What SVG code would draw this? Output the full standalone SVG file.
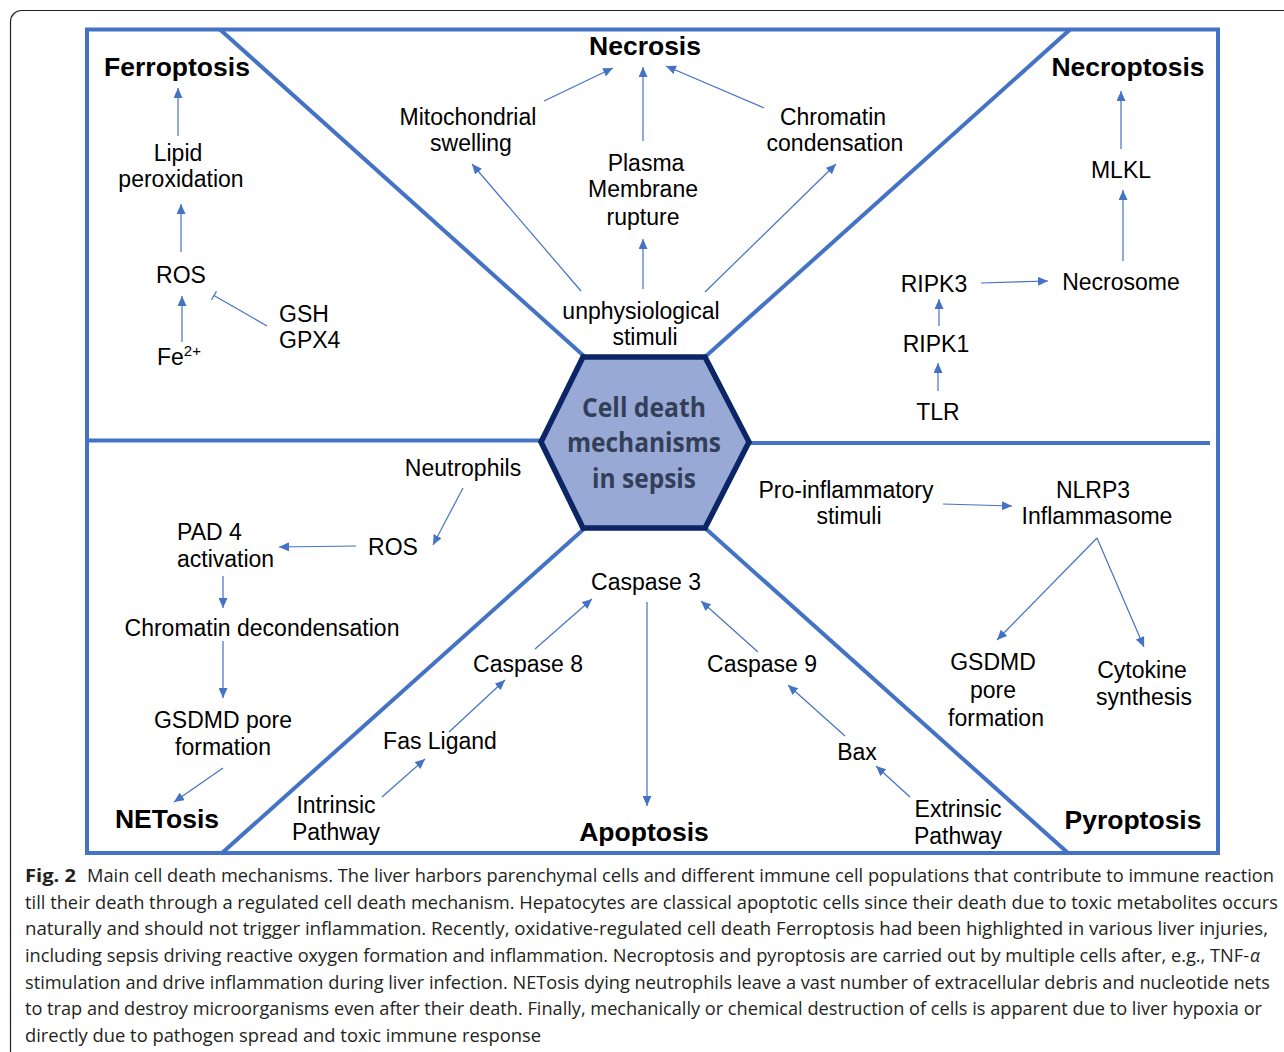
<svg xmlns="http://www.w3.org/2000/svg" width="1284" height="1052" viewBox="0 0 1284 1052">
<defs>
<marker id="ah" viewBox="0 0 10 9" refX="10" refY="4.5" markerWidth="10" markerHeight="9" markerUnits="userSpaceOnUse" orient="auto">
<path d="M0,0 L10,4.5 L0,9 z" fill="#4472C4"/>
</marker>
<marker id="bar" viewBox="0 0 2 10" refX="1" refY="5" markerWidth="2" markerHeight="10" markerUnits="userSpaceOnUse" orient="auto">
<path d="M1,0 L1,10" stroke="#4472C4" stroke-width="1.2"/>
</marker>
<style>
.lb{font-family:"Liberation Sans",Arial,sans-serif;font-size:23px;fill:#000;text-anchor:middle}
.st{text-anchor:start}
.tt{font-family:"Liberation Sans",Arial,sans-serif;font-size:26.5px;font-weight:bold;fill:#000;text-anchor:middle}
.fr{fill:none;stroke:#4472C4;stroke-width:4}
.cn line{stroke:#4472C4;stroke-width:1.2;marker-end:url(#ah)}
.cap{font-family:"Open Sans","Noto Sans",sans-serif;font-size:17.5px;fill:#231F20}
.hx{font-family:"Open Sans","Noto Sans",sans-serif;font-size:26px;font-weight:bold;fill:#333F58;text-anchor:middle}
</style>
</defs>
<rect width="1284" height="1052" fill="#fff"/>
<rect x="10.5" y="10.5" width="1320" height="1100" rx="11" fill="none" stroke="#222" stroke-width="1.2"/>

<g id="frame">
<rect class="fr" x="87" y="29.5" width="1131" height="823.5"/>
<line class="fr" x1="220" y1="29.5" x2="585" y2="357"/>
<line class="fr" x1="1070" y1="29.5" x2="705" y2="357"/>
<line class="fr" x1="222" y1="853" x2="585" y2="528"/>
<line class="fr" x1="1068" y1="853" x2="705" y2="528"/>
<line class="fr" x1="87" y1="440.5" x2="541" y2="440.5"/>
<line class="fr" x1="749" y1="443" x2="1210" y2="443"/>
</g>

<g id="hexagon">
<polygon points="583,357 705,357 749,442 705,528 583,528 541,442" fill="#99A9D6" stroke="#0B2566" stroke-width="5.5" stroke-linejoin="miter"/>
<text class="hx" x="644" y="417" textLength="124" lengthAdjust="spacingAndGlyphs">Cell death</text>
<text class="hx" x="644" y="452" textLength="154" lengthAdjust="spacingAndGlyphs">mechanisms</text>
<text class="hx" x="644" y="488" textLength="104" lengthAdjust="spacingAndGlyphs">in sepsis</text>
</g>

<g class="cn" id="connectors">
<line x1="178" y1="136" x2="178" y2="88"/>
<line x1="181" y1="252" x2="181" y2="204"/>
<line x1="182" y1="342" x2="182" y2="296"/>
<line x1="267" y1="326" x2="214" y2="295.5" style="marker-end:url(#bar)"/>
<line x1="544" y1="101" x2="613" y2="68"/>
<line x1="643" y1="141" x2="643" y2="67"/>
<line x1="764" y1="108" x2="666" y2="66"/>
<line x1="581" y1="291" x2="472" y2="164"/>
<line x1="643" y1="289" x2="643" y2="239"/>
<line x1="705" y1="292" x2="836" y2="164"/>
<line x1="1121" y1="149" x2="1121" y2="91"/>
<line x1="1123" y1="261" x2="1123" y2="190"/>
<line x1="981" y1="283" x2="1048" y2="281"/>
<line x1="939" y1="326" x2="939" y2="299"/>
<line x1="938" y1="391" x2="938" y2="363"/>
<line x1="943" y1="504" x2="1012" y2="506"/>
<line x1="1097" y1="538" x2="997" y2="640"/>
<line x1="1097" y1="538" x2="1144" y2="647"/>
<line x1="463" y1="488" x2="433" y2="545"/>
<line x1="356" y1="546" x2="279" y2="547"/>
<line x1="223" y1="576" x2="223" y2="608"/>
<line x1="223" y1="641" x2="223" y2="698"/>
<line x1="223" y1="768" x2="174" y2="802"/>
<line x1="647" y1="602" x2="647" y2="806"/>
<line x1="535" y1="649" x2="592" y2="599"/>
<line x1="758" y1="652" x2="701" y2="601"/>
<line x1="449" y1="732" x2="505" y2="680"/>
<line x1="382" y1="797" x2="425" y2="759"/>
<line x1="845" y1="736" x2="788" y2="685"/>
<line x1="910" y1="797" x2="876" y2="766"/>
</g>

<g id="ferroptosis"><text class="tt" x="177" y="76">Ferroptosis</text></g>
<g id="lipid"><text class="lb" x="178" y="161">Lipid</text><text class="lb" x="181" y="187">peroxidation</text></g>
<g id="ros1"><text class="lb" x="181" y="283">ROS</text></g>
<g id="fe"><text class="lb st" x="157" y="365">Fe<tspan font-size="15" dy="-9">2+</tspan></text></g>
<g id="gsh"><text class="lb st" x="279" y="322">GSH</text><text class="lb st" x="279" y="348">GPX4</text></g>

<g id="necrosis"><text class="tt" x="645" y="55">Necrosis</text></g>
<g id="mito"><text class="lb" x="468" y="125">Mitochondrial</text><text class="lb" x="471" y="151">swelling</text></g>
<g id="plasma"><text class="lb" x="646" y="171">Plasma</text><text class="lb" x="643" y="197">Membrane</text><text class="lb" x="643" y="225">rupture</text></g>
<g id="chromatin"><text class="lb" x="833" y="125">Chromatin</text><text class="lb" x="835" y="151">condensation</text></g>
<g id="unphys"><text class="lb" x="641" y="319">unphysiological</text><text class="lb" x="645" y="345">stimuli</text></g>

<g id="necroptosis"><text class="tt" x="1128" y="76">Necroptosis</text></g>
<g id="mlkl"><text class="lb" x="1121" y="178">MLKL</text></g>
<g id="necrosome"><text class="lb" x="1121" y="290">Necrosome</text></g>
<g id="ripk3"><text class="lb" x="934" y="292">RIPK3</text></g>
<g id="ripk1"><text class="lb" x="936" y="352">RIPK1</text></g>
<g id="tlr"><text class="lb" x="938" y="420">TLR</text></g>

<g id="proinf"><text class="lb" x="846" y="498">Pro-inflammatory</text><text class="lb" x="849" y="524">stimuli</text></g>
<g id="nlrp3"><text class="lb" x="1093" y="498">NLRP3</text><text class="lb" x="1097" y="524">Inflammasome</text></g>
<g id="gsdmd2"><text class="lb" x="993" y="670">GSDMD</text><text class="lb" x="993" y="698">pore</text><text class="lb" x="996" y="726">formation</text></g>
<g id="cytokine"><text class="lb" x="1142" y="678">Cytokine</text><text class="lb" x="1144" y="705">synthesis</text></g>
<g id="pyroptosis"><text class="tt" x="1133" y="829">Pyroptosis</text></g>

<g id="neutrophils"><text class="lb" x="463" y="476">Neutrophils</text></g>
<g id="ros2"><text class="lb" x="393" y="555">ROS</text></g>
<g id="pad4"><text class="lb st" x="177" y="540">PAD 4</text><text class="lb st" x="177" y="567">activation</text></g>
<g id="chromdec"><text class="lb" x="262" y="636">Chromatin decondensation</text></g>
<g id="gsdmd1"><text class="lb" x="223" y="728">GSDMD pore</text><text class="lb" x="223" y="755">formation</text></g>
<g id="netosis"><text class="tt" x="167" y="828">NETosis</text></g>

<g id="casp3"><text class="lb" x="646" y="590">Caspase 3</text></g>
<g id="casp8"><text class="lb" x="528" y="672">Caspase 8</text></g>
<g id="casp9"><text class="lb" x="762" y="672">Caspase 9</text></g>
<g id="fas"><text class="lb" x="440" y="749">Fas Ligand</text></g>
<g id="intrinsic"><text class="lb" x="336" y="813">Intrinsic</text><text class="lb" x="336" y="840">Pathway</text></g>
<g id="bax"><text class="lb" x="857" y="760">Bax</text></g>
<g id="extrinsic"><text class="lb" x="958" y="817">Extrinsic</text><text class="lb" x="958" y="844">Pathway</text></g>
<g id="apoptosis"><text class="tt" x="644" y="841">Apoptosis</text></g>

<g id="caption">
<text class="cap" x="25" y="882" font-weight="bold" textLength="51" lengthAdjust="spacingAndGlyphs">Fig. 2</text>
<text class="cap" x="87" y="882" textLength="1187" lengthAdjust="spacingAndGlyphs">Main cell death mechanisms. The liver harbors parenchymal cells and different immune cell populations that contribute to immune reaction</text>
<text class="cap" x="25" y="908.7" textLength="1253" lengthAdjust="spacingAndGlyphs">till their death through a regulated cell death mechanism. Hepatocytes are classical apoptotic cells since their death due to toxic metabolites occurs</text>
<text class="cap" x="25" y="935.3" textLength="1243" lengthAdjust="spacingAndGlyphs">naturally and should not trigger inflammation. Recently, oxidative-regulated cell death Ferroptosis had been highlighted in various liver injuries,</text>
<text class="cap" x="25" y="962" textLength="1224" lengthAdjust="spacingAndGlyphs">including sepsis driving reactive oxygen formation and inflammation. Necroptosis and pyroptosis are carried out by multiple cells after, e.g., TNF-</text>
<text class="cap" x="1250" y="962" font-style="italic">α</text>
<text class="cap" x="25" y="988.7" textLength="1245" lengthAdjust="spacingAndGlyphs">stimulation and drive inflammation during liver infection. NETosis dying neutrophils leave a vast number of extracellular debris and nucleotide nets</text>
<text class="cap" x="25" y="1015.3" textLength="1237" lengthAdjust="spacingAndGlyphs">to trap and destroy microorganisms even after their death. Finally, mechanically or chemical destruction of cells is apparent due to liver hypoxia or</text>
<text class="cap" x="25" y="1042" textLength="516" lengthAdjust="spacingAndGlyphs">directly due to pathogen spread and toxic immune response</text>
</g>
</svg>
